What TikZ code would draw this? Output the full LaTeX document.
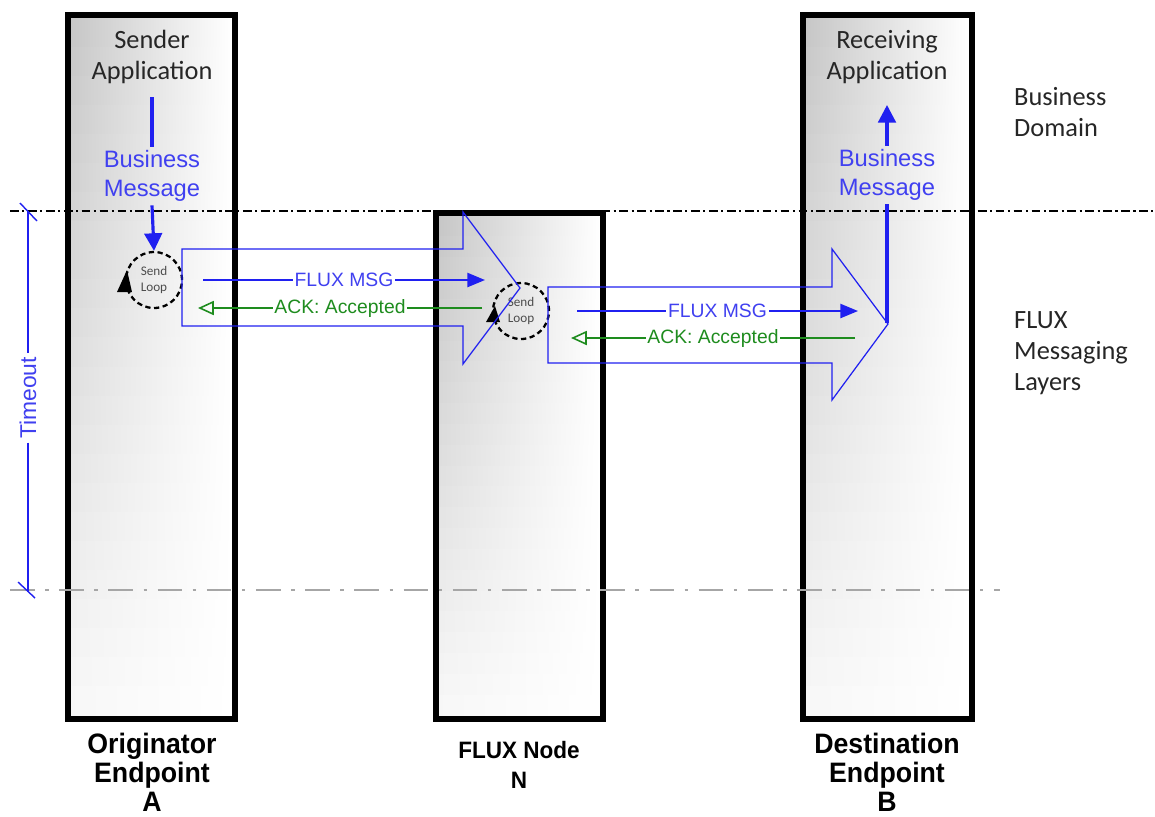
\documentclass[tikz,border=0pt]{standalone}
\usepackage{fontspec}
\newfontfamily\calibri{Carlito}
\newfontfamily\arial{Liberation Sans}
\newfontfamily\arialnarrow[FakeStretch=0.95]{Liberation Sans}
\usetikzlibrary{arrows.meta}
\definecolor{fluxblue}{RGB}{32,32,240}
\definecolor{lblblue}{RGB}{64,64,240}
\definecolor{fluxgreen}{RGB}{30,140,30}

\begin{document}
\begin{tikzpicture}[x=0.02cm,y=-0.02cm,
  column/.style={draw=black,line width=3.4pt,minimum width=3.34cm,inner sep=0pt},
  apptext/.style={font=\calibri\fontsize{15}{17.6}\selectfont,align=center,text=black!85},
  sidetext/.style={font=\calibri\fontsize{15}{17.6}\selectfont,align=left,anchor=west,text=black!85},
  bizmsg/.style={font=\arial\fontsize{13.5}{16.4}\selectfont,align=center,text=lblblue,inner sep=2pt},
  bizline/.style={draw=fluxblue,line width=1.8pt},
  bizarr/.style={bizline,-{Triangle[length=10pt,width=10pt]}},
  loop/.style={circle,draw=black,line width=1.3pt,dash pattern=on 3pt off 2pt,
               minimum size=1.12cm,inner sep=0pt,align=center,
               font=\calibri\fontsize{7.5}{9}\selectfont,text=black!70},
  bigarrow/.style={draw=fluxblue,line width=0.7pt},
  msg/.style={-{Triangle[length=10pt,width=8pt]},draw=fluxblue,line width=1.1pt},
  ack/.style={-{Triangle[open,length=9pt,width=8pt]},draw=fluxgreen,line width=0.9pt},
  msglbl/.style={font=\arial\fontsize{11}{13}\selectfont,fill=white,inner sep=1pt,text=lblblue},
  acklbl/.style={font=\arial\fontsize{11}{13}\selectfont,fill=white,inner sep=1pt,text=fluxgreen},
  endpoint/.style={font=\arialnarrow\bfseries\fontsize{16}{16.6}\selectfont,align=center},
  sep/.style={line width=0.8pt,dash pattern=on 5pt off 2pt on 1.2pt off 2pt},
  sepgray/.style={line width=0.8pt,draw=gray!70,dash pattern=on 14pt off 6pt on 2pt off 6pt},
  tline/.style={draw=fluxblue,line width=0.8pt},
]
\useasboundingbox (0,0) rectangle (1155,816);

% Column shading: grey on the left, fading out downwards
\foreach \xl/\xr/\yt/\yb in {71/232/18/716, 439/600/216/716, 806/969/18/716} {
  \foreach \i in {0,...,23} {
    \pgfmathsetmacro\ya{\yt+(\yb-\yt)/24*\i}
    \pgfmathsetmacro\yz{\yt+(\yb-\yt)/24*(\i+1)+1}
    \pgfmathsetmacro\gr{22-19*\i/23}
    \pgfmathsetmacro\gm{0.4*\gr}
    \shade[left color=black!\gr,middle color=black!\gm,right color=white]
      (\xl,\ya) rectangle (\xr,\yz);
  }
}

% Columns
\node[column,minimum height=14.08cm] (colA) at (151.5,367) {};
\node[column,minimum height=10.12cm] (colN) at (519.5,466) {};
\node[column,minimum width=3.38cm,minimum height=14.08cm] (colB) at (887.5,367) {};

% Layer separators
\draw[sep] (10,211) -- (1155,211);
\draw[sepgray] (10,590) -- (1000,590);

% Applications
\node[apptext] (appA) at (152,57) {Sender\\Application};
\node[apptext] (appB) at (887,57) {Receiving\\Application};

% Right-hand layer names
\node[sidetext] (domain) at (1008,112) {Business\\Domain};
\node[sidetext] (layers) at (1008,353) {FLUX\\Messaging\\Layers};

% Send loops
\node[loop] (loopA) at (154,280) {Send\\Loop};
\node[loop] (loopN) at (521,311) {Send\\Loop};
\fill (117,292) -- (132,292) -- (127,270) -- cycle;
\fill (486,322) -- (500,322) -- (495,306) -- cycle;

% Business message, originator side
\coordinate (bizA) at (152,97);
\node[bizmsg] (bmA) at (152,176) {Business\\Message};
\draw[bizline] (bizA) -- (bmA.north);
\draw[bizarr] (bmA.south) -- (loopA.north);

% Business message, destination side
\coordinate (tipB) at (887,323);
\coordinate (bizB) at (887,105);
\node[bizmsg] (bmB) at (887,175) {Business\\Message};
\draw[bizline] (tipB) -- (bmB.south);
\draw[bizarr] (bmB.north) -- (bizB);

% Hop arrows
\draw[bigarrow] (182,249) -- (463,249) -- (463,212) -- (520,288) -- (463,364)
  -- (463,326) -- (182,326) -- cycle;
\draw[bigarrow] (548,287) -- (832,287) -- (832,249) -- (888,324) -- (832,400)
  -- (832,363) -- (548,363) -- cycle;

% FLUX MSG / ACK, first hop
\coordinate (m1s) at (203,280);
\coordinate (m1e) at (485,280);
\coordinate (a1s) at (482,308);
\coordinate (a1e) at (198,308);
\draw[msg] (m1s) -- node[msglbl] {FLUX MSG} (m1e);
\draw[ack] (a1s) -- node[acklbl] {ACK: Accepted} (a1e);

% FLUX MSG / ACK, second hop
\coordinate (m2s) at (577,311);
\coordinate (m2e) at (858,311);
\coordinate (a2s) at (855,338);
\coordinate (a2e) at (571,338);
\draw[msg] (m2s) -- node[msglbl] {FLUX MSG} (m2e);
\draw[ack] (a2s) -- node[acklbl] {ACK: Accepted} (a2e);

% Timeout
\node[font=\arial\fontsize{13}{15}\selectfont,text=lblblue,rotate=90,fill=white,inner sep=2pt]
  (tmo) at (28,398) {Timeout};
\coordinate (tmoTop) at (28,211);
\coordinate (tmoBot) at (28,592);
\draw[tline] (tmoTop) -- (tmo.east);
\draw[tline] (tmo.west) -- (tmoBot);
\draw[tline] (20,203) -- (37,221);
\draw[tline] (18,582) -- (35,598);

% Endpoint names
\node[endpoint] (epA) at (152,772) {Originator\\Endpoint\\A};
\node[endpoint,font=\arialnarrow\bfseries\fontsize{13.5}{17}\selectfont] (epN) at (519,765) {FLUX Node\\N};
\node[endpoint] (epB) at (887,772) {Destination\\Endpoint\\B};

\end{tikzpicture}
\end{document}
